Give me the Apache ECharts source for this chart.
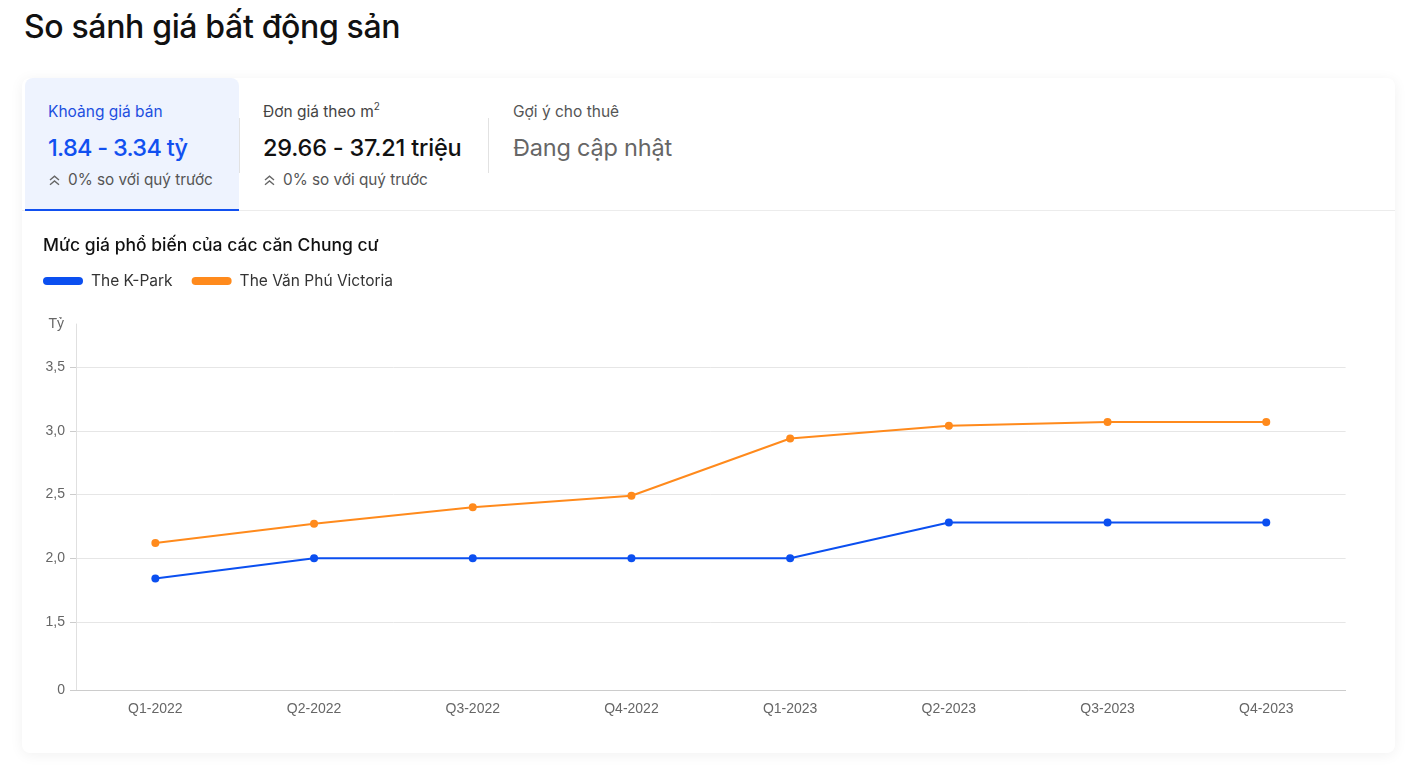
<!DOCTYPE html>
<html>
<head>
<meta charset="utf-8">
<script src="https://cdn.jsdelivr.net/npm/echarts@6/dist/echarts.min.js"></script>
<style>
  html, body { margin: 0; padding: 0; background: #fff; }
  body { width: 1416px; height: 784px; position: relative; overflow: hidden; font-family: Inter, "Noto Sans", sans-serif; }
  h1 { position: absolute; left: 24px; top: 7px; margin: 0; font-size: 32px; font-weight: 500; color: #111; letter-spacing: -0.35px; }
  .card { position: absolute; left: 22px; top: 78px; width: 1373px; height: 675px; background: #fff; border-radius: 8px;
          box-shadow: 0 2px 14px rgba(0,0,0,0.06); }
  .tabs { position: absolute; left: 0; top: 0; width: 1373px; height: 133px; border-bottom: 1px solid #ececec; box-sizing: border-box; }
  .tab { position: absolute; top: 0; height: 133px; box-sizing: border-box; }
  .tab.active { left: 3px; width: 214px; background: #eef3fe; border-top-left-radius: 8px; border-top-right-radius: 8px; border-bottom: 2px solid #1150f0; }
  .t1 { position: absolute; top: 24px; font-size: 15.5px; white-space: nowrap; }
  .t2 { position: absolute; top: 55px; font-size: 23.5px; font-weight: 500; white-space: nowrap; }
  .t3 { position: absolute; top: 92px; font-size: 15.3px; color: #555; white-space: nowrap; }
  .t3 svg { vertical-align: -1px; margin-right: 8px; margin-left: 1px; }
  .div { position: absolute; top: 40px; width: 1px; height: 55px; background: #e2e2e2; }
  sup { font-size: 10px; vertical-align: 7px; line-height: 0; }
  #chart { position: absolute; left: 0; top: 0; width: 1416px; height: 784px; }
</style>
</head>
<body>
<h1>So sánh giá bất động sản</h1>
<div class="card">
  <div class="tabs">
    <div class="div" style="left:217px"></div>
    <div class="div" style="left:466px"></div>
    <div class="tab active">
      <div class="t1" style="left:23px;color:#1d4fe0">Khoảng giá bán</div>
      <div class="t2" style="left:23px;color:#1150f0;letter-spacing:-0.7px">1.84 - 3.34 tỷ</div>
      <div class="t3" style="left:23px"><svg width="11" height="11" viewBox="0 0 11 11"><path d="M1 5 L5.5 1.2 L10 5 M1 9.8 L5.5 6 L10 9.8" fill="none" stroke="#666" stroke-width="1.4"/></svg>0% so với quý trước</div>
    </div>
    <div class="tab" style="left:241px;width:230px">
      <div class="t1" style="left:0;color:#444">Đơn giá theo m<sup>2</sup></div>
      <div class="t2" style="left:0;color:#111;letter-spacing:-0.2px">29.66 - 37.21 triệu</div>
      <div class="t3" style="left:0"><svg width="11" height="11" viewBox="0 0 11 11"><path d="M1 5 L5.5 1.2 L10 5 M1 9.8 L5.5 6 L10 9.8" fill="none" stroke="#666" stroke-width="1.4"/></svg>0% so với quý trước</div>
    </div>
    <div class="tab" style="left:491px;width:230px">
      <div class="t1" style="left:0;color:#555">Gợi ý cho thuê</div>
      <div class="t2" style="left:0;color:#666;font-weight:400;letter-spacing:-0.2px">Đang cập nhật</div>
    </div>
  </div>
</div>
<div id="chart"></div>
<script>
const categories = ['Q1-2022','Q2-2022','Q3-2022','Q4-2022','Q1-2023','Q2-2023','Q3-2023','Q4-2023'];
const kPark = [1.84, 2.0, 2.0, 2.0, 2.0, 2.28, 2.28, 2.28];
const vanPhu = [2.12, 2.27, 2.40, 2.49, 2.94, 3.04, 3.07, 3.07];
const seriesNames = ['The K-Park', 'The Văn Phú Victoria'];
const yAxisMin = 0.964;
const yAxisMax = 3.84;
const yTickValues = [0.964, 1.5, 2.0, 2.5, 3.0, 3.5];
const yTickLabels = ['0', '1,5', '2,0', '2,5', '3,0', '3,5'];

const chart = echarts.init(document.getElementById('chart'), null, {renderer: 'canvas'});
const pill = 'path://M4,0 H36 A4,4 0 0 1 36,8 H4 A4,4 0 0 1 4,0 Z';
chart.setOption({
  animation: false,
  color: ['#0b4ff0', '#ff8a1c'],
  title: {
    text: 'Mức giá phổ biến của các căn Chung cư',
    left: 38, top: 232,
    textStyle: { fontFamily: 'Inter', fontSize: 17.5, fontWeight: 500, color: '#111' }
  },
  legend: {
    left: 38, top: 268,
    icon: pill, itemWidth: 40, itemHeight: 8, itemGap: 19,
    textStyle: { fontFamily: 'Inter', fontSize: 15.5, color: '#333', padding: [0, 0, 0, 3] },
    data: seriesNames
  },
  grid: { left: 76, right: 70.4, top: 324, bottom: 94, containLabel: false },
  xAxis: {
    type: 'category',
    data: categories,
    boundaryGap: true,
    axisLine: { lineStyle: { color: '#cccccc' } },
    axisTick: { show: false },
    axisLabel: { color: '#666', fontSize: 14, fontFamily: 'Liberation Sans', margin: 12 }
  },
  yAxis: {
    type: 'value',
    min: yAxisMin, max: yAxisMax,
    name: 'Tỷ',
    nameLocation: 'end',
    nameGap: 0,
    nameTextStyle: { color: '#666', fontSize: 14, fontFamily: 'Liberation Sans', align: 'right', verticalAlign: 'middle', padding: [0, 12, 0, 0] },
    axisLine: { show: true, lineStyle: { color: '#e0e0e0' } },
    axisTick: { show: true, length: 6, customValues: yTickValues, lineStyle: { color: '#cccccc' } },
    axisLabel: {
      color: '#666', fontSize: 14, fontFamily: 'Liberation Sans', margin: 11,
      customValues: yTickValues,
      formatter: function (v) {
        const i = yTickValues.findIndex(t => Math.abs(t - v) < 1e-6);
        return i >= 0 ? yTickLabels[i] : '';
      }
    },
    splitLine: { show: true, lineStyle: { color: '#e6e6e6' } }
  },
  series: [
    { name: seriesNames[0], type: 'line', data: kPark, symbol: 'circle', symbolSize: 8, lineStyle: { width: 2 }, z: 3 },
    { name: seriesNames[1], type: 'line', data: vanPhu, symbol: 'circle', symbolSize: 8, lineStyle: { width: 2 }, z: 2 }
  ]
});
</script>
</body>
</html>
